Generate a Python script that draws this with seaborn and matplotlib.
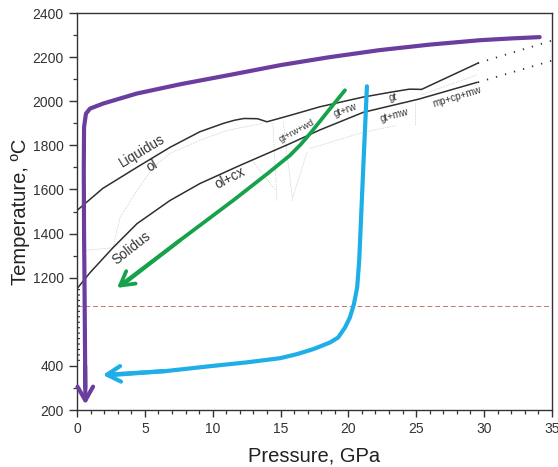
import numpy as np
import pandas as pd
import seaborn as sns
import matplotlib.pyplot as plt

# %%
# curves (pressure GPa, temperature C)
purple_p = [34.1, 32.0, 29.7, 26.0, 22.3, 18.5, 15.0, 11.3, 7.59, 4.4, 1.94, 0.96, 0.66, 0.52, 0.5, 0.52, 0.55, 0.6, 0.61]
purple_t = [2291, 2285, 2277, 2257, 2232, 2199, 2164, 2120, 2077, 2035, 1990, 1967, 1944, 1883, 1686, 1400, 1200, 400, 300]

green_p = [19.75, 18.5, 17.2, 16.5, 15.7, 14.0, 11.5, 7.6, 3.4]
green_t = [2050, 1955, 1855, 1805, 1755, 1670, 1550, 1370, 1140]

cyan_p = [21.37, 21.1, 20.8, 20.65, 20.41, 20.11, 19.75, 19.25, 18.64, 17.41, 16.19, 14.96, 12.5, 10.0, 6.6, 2.6]
cyan_t = [2068, 1700, 1277, 1112, 960, 838, 748, 658, 612, 552, 506, 470, 432, 400, 377, 359]

liq_p = [0.0, 1.9, 4.4, 6.85, 9.06, 10.8, 11.6, 12.3, 13.3, 14.0, 15.7, 17.9, 21.0, 23.1, 24.5, 25.4, 29.55]
liq_t = [1505, 1605, 1700, 1791, 1862, 1900, 1914, 1922, 1921, 1907, 1936, 1975, 2018, 2041, 2055, 2054, 2173]

sol_p = [0.0, 0.96, 2.65, 4.42, 6.85, 9.06, 12.0, 15.7, 17.9, 21.1, 25.2, 29.5]
sol_t = [1100, 1223, 1336, 1445, 1550, 1627, 1709, 1808, 1870, 1950, 2010, 2086]

ext_p = [29.55, 35.1]
liq_ext_t = [2173, 2277]
sol_ext_t = [2086, 2186]

# faint phase boundaries
ol_p = [0.44, 2.65, 3.17, 4.42, 5.6, 6.85, 9.06, 11.05, 13.7]
ol_t = [1323, 1336, 1473, 1595, 1700, 1764, 1823, 1868, 1900]
fan = [([14.44, 14.74], [1900, 1550]),
       ([15.2, 15.9], [1905, 1550]),
       ([16.95, 15.9], [1768, 1564]),
       ([13.0, 14.6], [1725, 1600]),
       ([17.17, 21.08, 23.5], [1786, 1859, 1890]),
       ([24.9, 24.9], [1991, 1891]),
       ([25.4, 29.5], [2030, 2120])]

labels = ["Liquidus", "ol", "ol+cx", "Solidus", "gt+rw+wd", "gt+rw", "gt", "gt+mw", "mp+cp+mw"]
label_p = [4.79, 5.53, 11.27, 4.05, 16.2, 19.75, 23.3, 23.4, 28.0]
label_t = [1777, 1709, 1650, 1336, 1868, 1959, 2018, 1936, 2018]
label_rot = [31, 30, 27, 38, 28, 20, 8, 15, 17]
label_size = [9.8, 9.8, 9.8, 9.8, 6.5, 7, 7, 7, 7]

yticks = [200, 400, 1200, 1400, 1600, 1800, 2000, 2200, 2400]
yminor = [300, 1300, 1500, 1700, 1900, 2100, 2300]


# broken temperature axis: 400-1200 squeezed
def fwd(t):
    return np.interp(t, [-5000, 400, 1200, 10000], [-4600, 800, 1200, 10000])


def inv(d):
    return np.interp(d, [-4600, 800, 1200, 10000], [-5000, 400, 1200, 10000])


# %%
sns.set_style("ticks")
plt.rcParams['font.family'] = ['Liberation Sans', 'DejaVu Sans']

fig = plt.figure(figsize=(5.58, 4.67), dpi=100)
ax = fig.add_axes([0.138, 0.122, 0.851, 0.850])
ax.set_yscale('function', functions=(fwd, inv))

purple = '#6a3d9e'
green = '#15a24a'
cyan = '#1eaee8'

ax.axhline(946, color='#c87272', lw=0.7, ls=(0, (5, 3)), zorder=1)

for xs, ys in [(ol_p, ol_t)] + fan:
    sns.lineplot(x=xs, y=ys, sort=False, estimator=None, color='#b4b4b4',
                 lw=0.5, ls=(0, (1, 1.5)), ax=ax)

sns.lineplot(x=liq_p, y=liq_t, sort=False, estimator=None, color='#2f2f2f', lw=1.1, ax=ax)
sns.lineplot(x=sol_p, y=sol_t, sort=False, estimator=None, color='#2f2f2f', lw=1.1, ax=ax)
sns.lineplot(x=ext_p, y=liq_ext_t, sort=False, estimator=None, color='#2f2f2f',
             lw=1.3, ls=(0, (0.7, 4.5)), ax=ax)
sns.lineplot(x=ext_p, y=sol_ext_t, sort=False, estimator=None, color='#2f2f2f',
             lw=1.3, ls=(0, (0.7, 4.5)), ax=ax)
sns.lineplot(x=[0.16, 0.16], y=[1100, 446], sort=False, estimator=None, color='#2f2f2f',
             lw=1.4, ls=(0, (0.6, 2.2)), ax=ax)

sns.lineplot(x=purple_p, y=purple_t, sort=False, estimator=None, color=purple, lw=3.0, ax=ax)
sns.lineplot(x=green_p, y=green_t, sort=False, estimator=None, color=green, lw=2.7, ax=ax)
sns.lineplot(x=cyan_p, y=cyan_t, sort=False, estimator=None, color=cyan, lw=3.0, ax=ax)

# arrow heads
ax.annotate('', xy=(0.62, 225), xytext=(purple_p[-2], purple_t[-2]),
            arrowprops=dict(arrowstyle='->,head_length=0.7,head_width=0.4',
                            color=purple, lw=3.0, shrinkA=0, shrinkB=0, mutation_scale=14))
ax.annotate('', xy=(2.95, 1108), xytext=(green_p[-2], green_t[-2]),
            arrowprops=dict(arrowstyle='->,head_length=0.7,head_width=0.4',
                            color=green, lw=2.7, shrinkA=0, shrinkB=0, mutation_scale=14))
ax.annotate('', xy=(1.9, 359), xytext=(cyan_p[-2], cyan_t[-2]),
            arrowprops=dict(arrowstyle='->,head_length=0.7,head_width=0.4',
                            color=cyan, lw=3.0, shrinkA=0, shrinkB=0, mutation_scale=14))

for s, p, t, r, fs in zip(labels, label_p, label_t, label_rot, label_size):
    ax.text(p, t, s, rotation=r, rotation_mode='anchor', ha='center', va='center',
            fontsize=fs, color='#333333')

ax.set_xlim(0, 35)
ax.set_ylim(200, 2400)
ax.set_xticks(range(0, 36, 5))
ax.set_xticks(range(0, 36), minor=True)
ax.set_yticks(yticks)
ax.set_yticklabels([str(v) for v in yticks])
ax.set_yticks(yminor, minor=True)
ax.tick_params(axis='both', which='major', labelsize=10, colors='#333333', width=1.0)
ax.tick_params(axis='y', which='major', length=6)
ax.tick_params(axis='x', which='major', length=5)
ax.tick_params(axis='both', which='minor', length=3, width=0.9, colors='#333333')
for sp in ax.spines.values():
    sp.set_color('#333333')
    sp.set_linewidth(1.0)

ax.set_xlabel("Pressure, GPa", fontsize=14.5, color='#222222', labelpad=8)
ax.set_ylabel("Temperature, \u00baC", fontsize=14.5, color='#222222', labelpad=2)

plt.savefig("out.png", dpi=100)
